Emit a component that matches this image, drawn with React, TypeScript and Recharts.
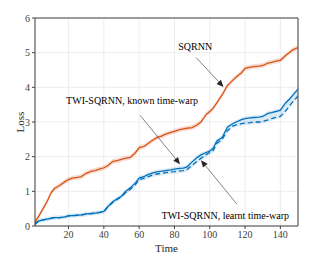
import React from "react";
import {
  ComposedChart, Line, Area, XAxis, YAxis, CartesianGrid, ReferenceLine, ReferenceDot,
} from "recharts";

const time = [1,2,3,5,8,10,12,15,18,20,22,25,27,30,33,35,38,40,42,45,48,50,52,55,58,60,63,65,67,70,73,75,78,80,83,85,87,90,93,95,98,100,102,104,107,110,113,115,118,120,123,125,128,130,133,135,138,140,143,145,147,150];
const sqrnn = [0.08,0.2,0.27,0.45,0.72,0.95,1.08,1.17,1.28,1.34,1.38,1.4,1.42,1.52,1.58,1.6,1.65,1.68,1.73,1.86,1.89,1.92,1.95,1.98,2.12,2.26,2.3,2.38,2.45,2.55,2.6,2.65,2.7,2.73,2.78,2.8,2.82,2.84,2.92,3.0,3.22,3.3,3.4,3.55,3.78,4.05,4.2,4.3,4.42,4.55,4.58,4.6,4.61,4.63,4.7,4.72,4.76,4.78,4.92,5.0,5.08,5.15];
const twiKnown = [0.05,0.1,0.14,0.17,0.2,0.22,0.24,0.24,0.26,0.3,0.3,0.31,0.32,0.35,0.36,0.37,0.4,0.42,0.55,0.7,0.8,0.86,0.98,1.1,1.25,1.38,1.43,1.48,1.52,1.56,1.58,1.6,1.62,1.64,1.66,1.67,1.7,1.85,1.98,2.05,2.12,2.16,2.25,2.45,2.55,2.85,2.95,3.0,3.07,3.1,3.12,3.13,3.14,3.16,3.25,3.27,3.31,3.34,3.55,3.65,3.77,3.95];
const twiLearnt = [0.05,0.1,0.14,0.17,0.2,0.22,0.24,0.24,0.26,0.29,0.3,0.31,0.31,0.34,0.36,0.37,0.39,0.41,0.53,0.68,0.78,0.84,0.95,1.06,1.2,1.34,1.38,1.42,1.46,1.5,1.52,1.54,1.56,1.57,1.59,1.6,1.62,1.75,1.88,1.95,2.06,2.12,2.18,2.38,2.5,2.75,2.88,2.92,2.95,2.97,2.98,3.0,3.0,3.02,3.06,3.1,3.14,3.16,3.32,3.45,3.58,3.75];
const sqrnnBand = 0.07;
const twiBand = 0.06;

const xTicks = [20, 40, 60, 80, 100, 120, 140];
const yTicks = [0, 1, 2, 3, 4, 5, 6];

const data = time.map((t, i) => ({
  t,
  sqrnn: sqrnn[i],
  known: twiKnown[i],
  learnt: twiLearnt[i],
  sqrnnBand: [sqrnn[i] - sqrnnBand, sqrnn[i] + sqrnnBand],
  twiBand: [Math.min(twiKnown[i], twiLearnt[i]) - twiBand, Math.max(twiKnown[i], twiLearnt[i]) + twiBand],
}));

const FONT = "Liberation Serif";
const ORANGE = "#D95319";
const BLUE = "#0072BD";

const Arrow = (props: any) => {
  const { x1, y1, x2, y2 } = props;
  if ([x1, y1, x2, y2].some((v) => v == null || isNaN(v))) return null;
  const dx = x2 - x1, dy = y2 - y1;
  const len = Math.sqrt(dx * dx + dy * dy) || 1;
  const ux = dx / len, uy = dy / len;
  const hl = 7, hw = 3;
  const bx = x2 - ux * hl, by = y2 - uy * hl;
  const pts = `${x2},${y2} ${bx - uy * hw},${by + ux * hw} ${bx + uy * hw},${by - ux * hw}`;
  return (
    <g>
      <line x1={x1} y1={y1} x2={bx} y2={by} stroke="#333" strokeWidth={0.6} />
      <polygon points={pts} fill="#262626" />
    </g>
  );
};

const makeText = (value: string) => (props: any) => {
  const vb = props.viewBox || {};
  const cx = (vb.x ?? 0) + (vb.width ?? 0) / 2;
  const cy = (vb.y ?? 0) + (vb.height ?? 0) / 2;
  return (
    <text x={cx} y={cy} textAnchor="middle" dominantBaseline="central"
      fontFamily={FONT} fontSize={10} fill="#000" stroke="none" fontWeight="normal">
      {value}
    </text>
  );
};

const tickStyle = { fontFamily: FONT, fontSize: 10, fill: "#404040", stroke: "none" };

export default function App() {
  return (
    <div style={{ position: "absolute", left: 0, top: 0, width: 332, height: 266, background: "#fff", fontFamily: FONT }}>
      <ComposedChart width={332} height={266} data={data} margin={{ top: 18, right: 34, bottom: 0, left: 0 }}>
        <CartesianGrid stroke="#e8e8e8" strokeWidth={0.8} />
        <XAxis
          dataKey="t" type="number" domain={[1, 150]} ticks={xTicks} allowDataOverflow
          tick={tickStyle}
          stroke="#404040" tickSize={3} height={40}
          label={{ value: "Time", position: "insideBottom", offset: 14, fontFamily: FONT, fontSize: 11, fill: "#262626", stroke: "none" }}
        />
        <YAxis
          type="number" domain={[0, 6]} ticks={yTicks} width={35} allowDataOverflow
          tick={tickStyle}
          stroke="#404040" tickSize={3}
          label={{ value: "Loss", angle: -90, position: "insideLeft", offset: 20, fontFamily: FONT, fontSize: 11, fill: "#262626", stroke: "none", textAnchor: "middle" }}
        />
        <ReferenceLine y={6} stroke="#404040" strokeWidth={1} />
        <ReferenceLine x={150} stroke="#404040" strokeWidth={1} />
        <Area dataKey="sqrnnBand" stroke="none" fill={ORANGE} fillOpacity={0.2} isAnimationActive={false} type="linear" />
        <Area dataKey="twiBand" stroke="none" fill={BLUE} fillOpacity={0.15} isAnimationActive={false} type="linear" />
        <Line dataKey="sqrnn" stroke={ORANGE} strokeWidth={1.3} dot={false} type="linear" isAnimationActive={false} />
        <Line dataKey="known" stroke={BLUE} strokeWidth={1.3} dot={false} type="linear" isAnimationActive={false} />
        <Line dataKey="learnt" stroke={BLUE} strokeWidth={1.3} strokeDasharray="5 3" dot={false} type="linear" isAnimationActive={false} />
        <ReferenceLine segment={[{ x: 92.3, y: 4.86 }, { x: 107.8, y: 4.01 }]} shape={Arrow} />
        <ReferenceLine segment={[{ x: 60.6, y: 3.19 }, { x: 83.2, y: 1.78 }]} shape={Arrow} />
        <ReferenceLine segment={[{ x: 115.4, y: 0.63 }, { x: 95.0, y: 1.9 }]} shape={Arrow} />
        <ReferenceDot x={91.8} y={5.18} r={0} fill="none" stroke="none" label={makeText("SQRNN")} />
        <ReferenceDot x={56.0} y={3.63} r={0} fill="none" stroke="none" label={makeText("TWI-SQRNN, known time-warp")} />
        <ReferenceDot x={108.8} y={0.31} r={0} fill="none" stroke="none" label={makeText("TWI-SQRNN, learnt time-warp")} />
      </ComposedChart>
    </div>
  );
}
